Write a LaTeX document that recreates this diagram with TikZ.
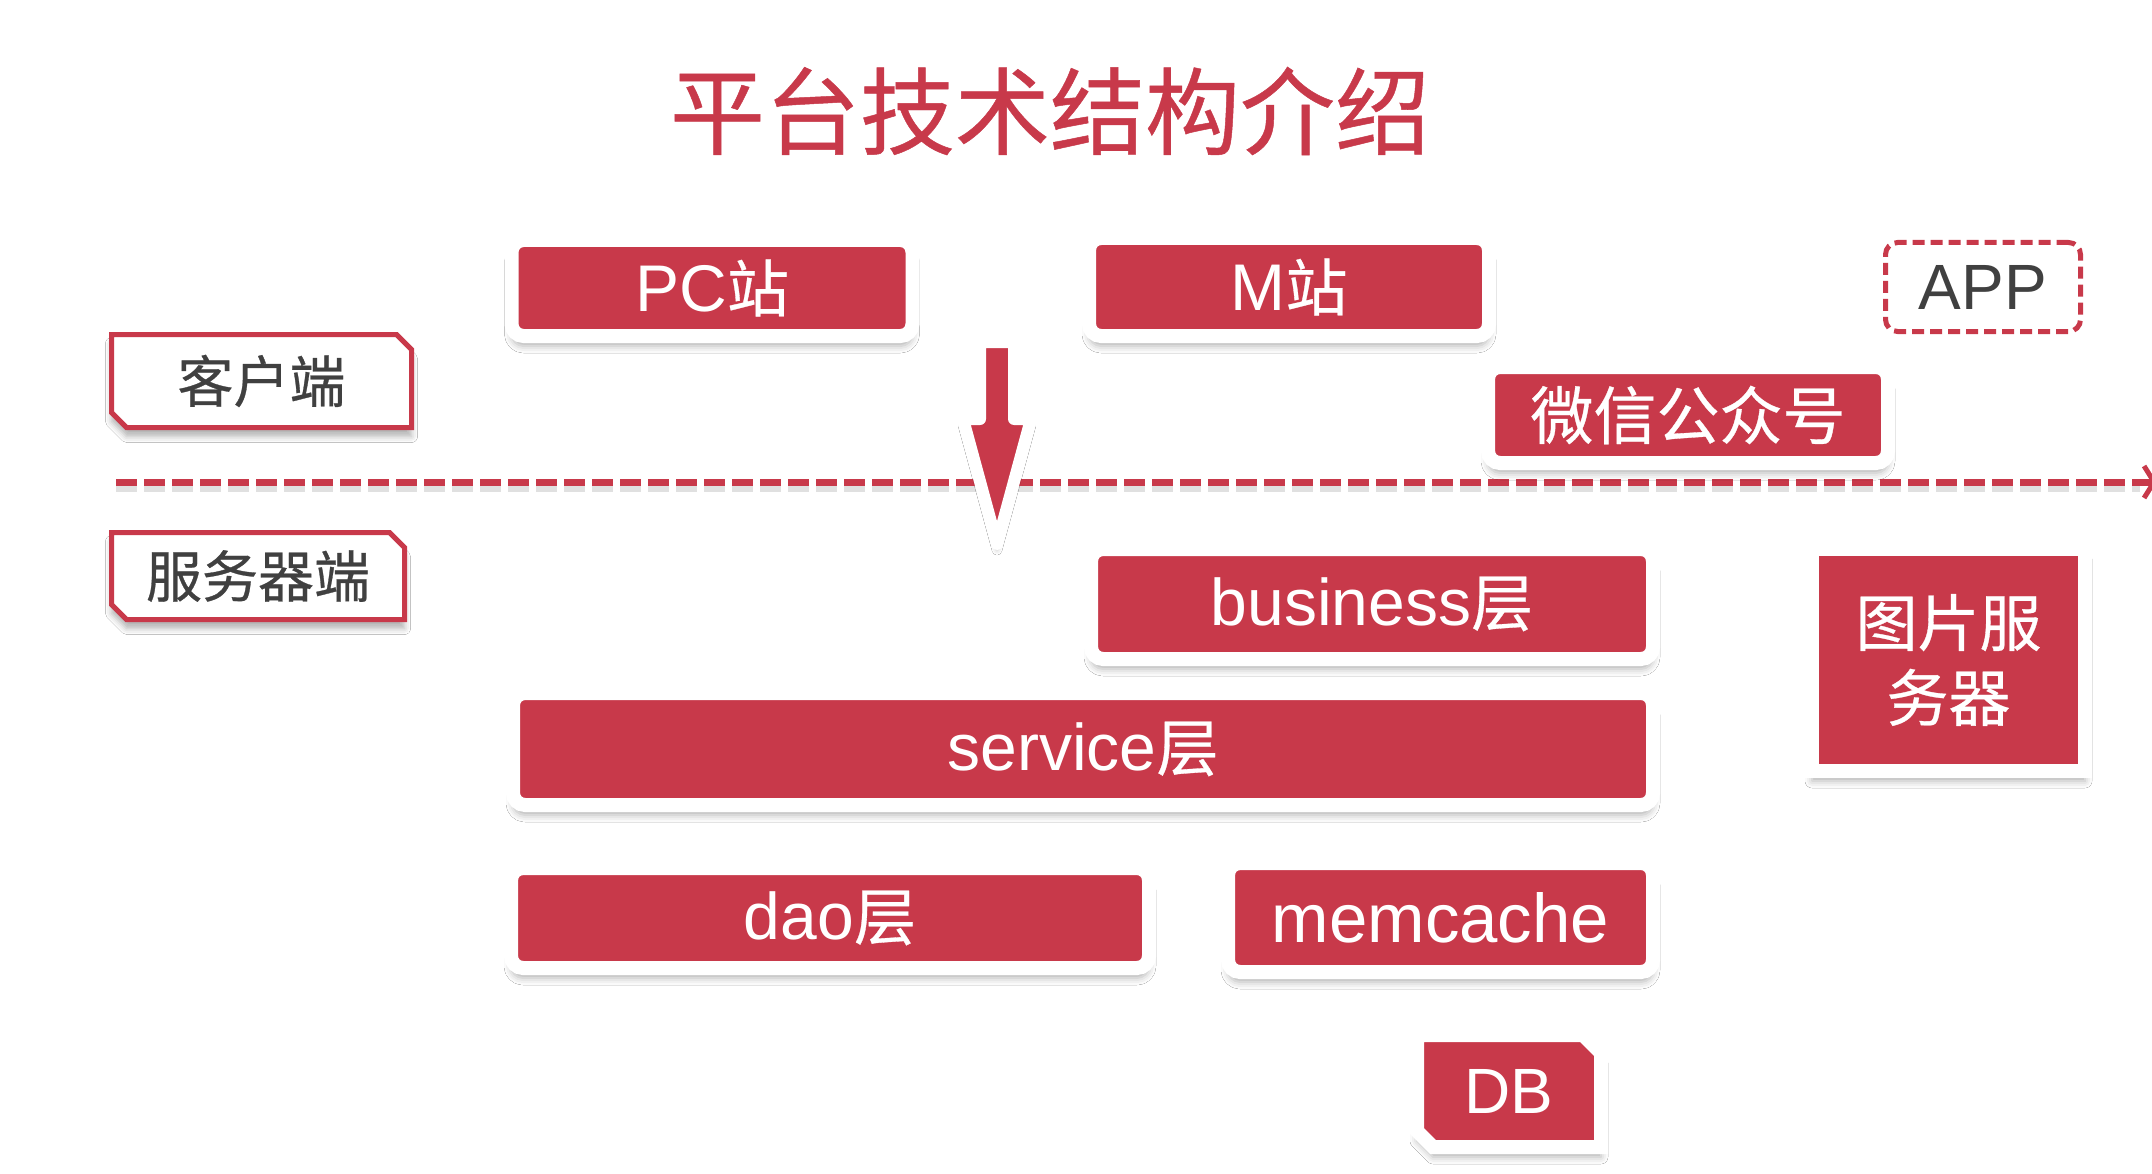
\documentclass[tikz,border=0pt]{standalone}
\usepackage{fontspec}
\setmainfont{Liberation Sans}
\newfontfamily\cjk{Noto Sans CJK SC}[FakeBold=0.5]
\usetikzlibrary{shadows.blur,arrows.meta}
\definecolor{brand}{RGB}{200,57,74}
\definecolor{ink}{RGB}{64,64,64}
\newcommand\zh[1]{{\cjk\fontsize{62}{70}\selectfont #1}}
\tikzset{
  softshadow/.style={blur shadow={shadow xshift=0pt, shadow yshift=-10pt, shadow blur radius=7pt, shadow opacity=30}},
  redbox/.style={fill=brand, draw=white, line width=14pt, rounded corners=12pt, inner sep=0pt, outer sep=0pt,
    text=white, font=\fontsize{66}{72}\selectfont, softshadow},
  squarebox/.style={fill=brand, draw=white, line width=14pt, inner sep=0pt, outer sep=0pt,
    text=white, align=center, font=\cjk\fontsize{62}{75}\selectfont, softshadow},
  tagtext/.style={inner sep=0pt, outer sep=0pt, text=ink, font=\cjk\fontsize{56}{60}\selectfont},
  tagshape/.style={fill=white, draw=brand, line width=5pt, line join=miter,
    blur shadow={shadow xshift=0pt, shadow yshift=-9pt, shadow blur radius=6pt, shadow opacity=30}},
  dbshape/.style={fill=brand, draw=white, line width=14pt, line join=miter, softshadow},
  dbtext/.style={inner sep=0pt, outer sep=0pt, text=white, font=\fontsize{64}{70}\selectfont},
  appbox/.style={fill=white, draw=brand, line width=5pt, dash pattern=on 12pt off 6pt, rounded corners=12pt,
    inner sep=0pt, outer sep=0pt, text=ink, font=\fontsize{64}{70}\selectfont},
  titletext/.style={inner sep=0pt, text=brand, font=\cjk\fontsize{95}{100}\selectfont},
  divider/.style={draw=brand, line width=7pt, dash pattern=on 21pt off 7pt,
    -{Straight Barb[length=10pt,width=32pt,line width=5pt]}},
  dividershadow/.style={draw=black, opacity=0.12, line width=8pt, dash pattern=on 21pt off 7pt},
  blockarrow/.style={fill=brand, draw=white, line width=12pt, line join=round,
    blur shadow={shadow xshift=0pt, shadow yshift=-6pt, shadow blur radius=5pt, shadow opacity=25}}
}
\begin{document}
\begin{tikzpicture}[x=1pt,y=-1pt]
\useasboundingbox (0,0) rectangle (2152,1174);
\fill[white] (0,0) rectangle (2152,1174);

% title
\node[titletext] (title) at (1050,111) {平台技术结构介绍};

% divider
\coordinate (dl) at (116,482);
\coordinate (dr) at (2157,482);
\coordinate (dls) at (116,488);
\coordinate (drs) at (2140,488);
\draw[dividershadow] (dls) -- (drs);
\draw[divider] (dl) -- (dr);

% client side
\node[redbox, minimum width=401pt, minimum height=96pt] (pc) at (712,288) {PC\zh{站}};
\node[redbox, minimum width=400pt, minimum height=98pt] (m) at (1289,287) {M\zh{站}};
\node[redbox, minimum width=400pt, minimum height=96pt, font=\cjk\fontsize{63}{70}\selectfont] (wx) at (1688,415) {微信公众号};
\node[appbox, minimum width=195pt, minimum height=89pt] (app) at (1983,287) {APP};

% tags (chamfered outline drawn first, text node on top)
\coordinate (clientc) at (261.5,381);
\path[tagshape] ([xshift=-150pt,yshift=46.5pt]clientc) -- ([xshift=135pt,yshift=46.5pt]clientc)
  -- ([xshift=150pt,yshift=31.5pt]clientc) -- ([xshift=150pt,yshift=-46.5pt]clientc)
  -- ([xshift=-135pt,yshift=-46.5pt]clientc) -- ([xshift=-150pt,yshift=-31.5pt]clientc) -- cycle;
\node[tagtext] (client) at (clientc) {客户端};

\coordinate (serverc) at (258,576);
\path[tagshape] ([xshift=-146.5pt,yshift=43.5pt]serverc) -- ([xshift=131.5pt,yshift=43.5pt]serverc)
  -- ([xshift=146.5pt,yshift=28.5pt]serverc) -- ([xshift=146.5pt,yshift=-43.5pt]serverc)
  -- ([xshift=-131.5pt,yshift=-43.5pt]serverc) -- ([xshift=-146.5pt,yshift=-28.5pt]serverc) -- cycle;
\node[tagtext] (server) at (serverc) {服务器端};

% down arrow
\path[blockarrow] (980,342) -- (1014,342) -- (1014,419) -- (1031,419) -- (997,544) -- (963,419) -- (980,419) -- cycle;

% server side
\node[redbox, minimum width=562pt, minimum height=110pt] (biz) at (1372,604) {business\zh{层}};
\node[redbox, minimum width=1140pt, minimum height=112pt] (svc) at (1083,749) {service\zh{层}};
\node[redbox, minimum width=638pt, minimum height=100pt] (dao) at (830,918) {dao\zh{层}};
\node[redbox, minimum width=425pt, minimum height=109pt, font=\fontsize{69}{72}\selectfont] (mc) at (1440.5,917.5) {memcache};
\node[squarebox, minimum width=273pt, minimum height=222pt] (img) at (1948.5,660) {图片服\\务器};

% DB
\coordinate (dbc) at (1509,1091);
\path[dbshape] ([xshift=-92pt,yshift=56pt]dbc) -- ([xshift=74pt,yshift=56pt]dbc)
  -- ([xshift=92pt,yshift=38pt]dbc) -- ([xshift=92pt,yshift=-56pt]dbc)
  -- ([xshift=-76pt,yshift=-56pt]dbc) -- ([xshift=-92pt,yshift=-40pt]dbc) -- cycle;
\node[dbtext] (db) at (dbc) {DB};
\end{tikzpicture}
\end{document}
